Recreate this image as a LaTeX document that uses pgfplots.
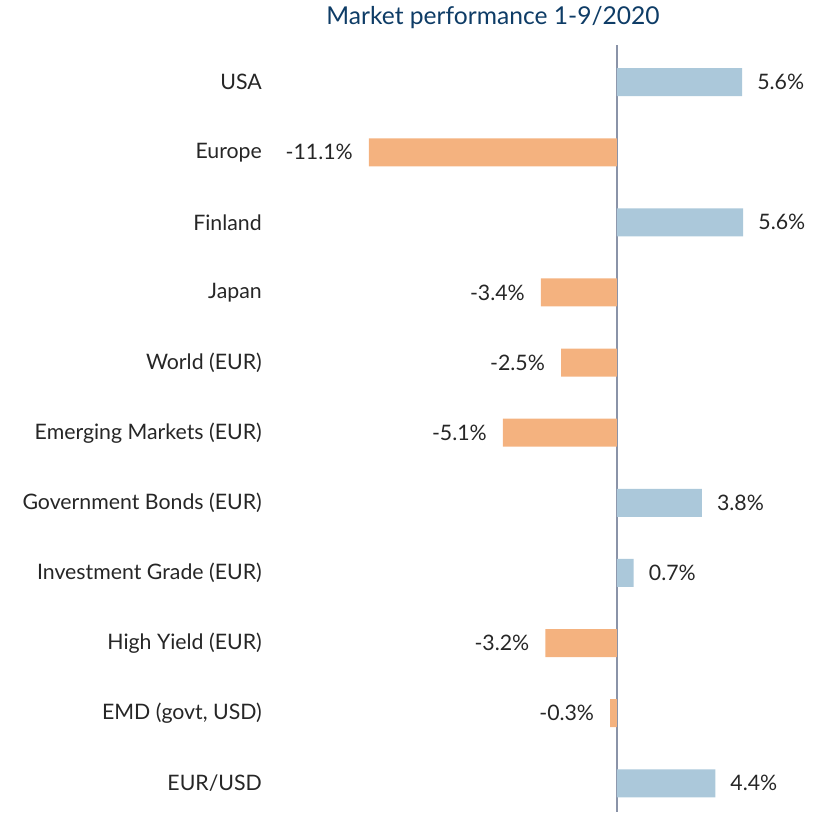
\documentclass[border=0pt]{standalone}
\usepackage{pgfplots}
\pgfplotsset{compat=1.18}
\usepackage{fontspec}
\setmainfont{Lato}
\definecolor{barblue}{HTML}{ABC8DA}
\definecolor{barorange}{HTML}{F4B27F}
\definecolor{zeroline}{HTML}{8A93A8}
\definecolor{titleblue}{HTML}{0E3C66}
\definecolor{txt}{HTML}{262626}
\begin{document}
\begin{tikzpicture}
\path[use as bounding box] (0,0) rectangle (816pt,814pt);
\begin{axis}[
  at={(280pt,2pt)}, anchor=south west,
  scale only axis, width=530pt, height=767pt,
  xbar, bar width=28pt, bar shift=0pt,
  xmin=-15.08, xmax=8.64,
  ymin=-0.53, ymax=10.41, y dir=reverse,
  axis line style={draw=none},
  major tick length=0pt,
  xtick=\empty,
  ytick={0,...,10},
  yticklabels={USA,Europe,Finland,Japan,World (EUR),Emerging Markets (EUR),Government Bonds (EUR),Investment Grade (EUR),High Yield (EUR),{EMD (govt, USD)},EUR/USD},
  yticklabel style={anchor=east, inner sep=0pt, xshift=-18pt, font=\fontsize{21.3}{25}\selectfont, text=txt},
  extra x ticks={0},
  extra x tick labels={},
  extra x tick style={grid=major, major grid style={draw=zeroline, line width=2pt}},
  title={Market performance 1-9/2020},
  title style={at={(0.402,1)}, anchor=base, yshift=15pt, inner sep=0pt, font=\fontsize{24.6}{29}\selectfont, text=titleblue},
  point meta=explicit symbolic,
  nodes near coords,
  every node near coord/.append style={font=\fontsize{21.3}{25}\selectfont, text=txt, inner sep=0pt},
  clip=false,
]
\addplot[fill=barblue, draw=none, nodes near coords style={anchor=west, xshift=15pt}] coordinates {
  (5.6,0) [5.6\%]
  (5.65,2) [5.6\%]
  (3.8,6) [3.8\%]
  (0.75,7) [0.7\%]
  (4.4,10) [4.4\%]
};
\addplot[fill=barorange, draw=none, nodes near coords style={anchor=east, xshift=-16pt}] coordinates {
  (-11.1,1) [-11.1\%]
  (-3.4,3) [-3.4\%]
  (-2.5,4) [-2.5\%]
  (-5.1,5) [-5.1\%]
  (-3.2,8) [-3.2\%]
  (-0.3,9) [-0.3\%]
};
\end{axis}
\end{tikzpicture}
\end{document}
